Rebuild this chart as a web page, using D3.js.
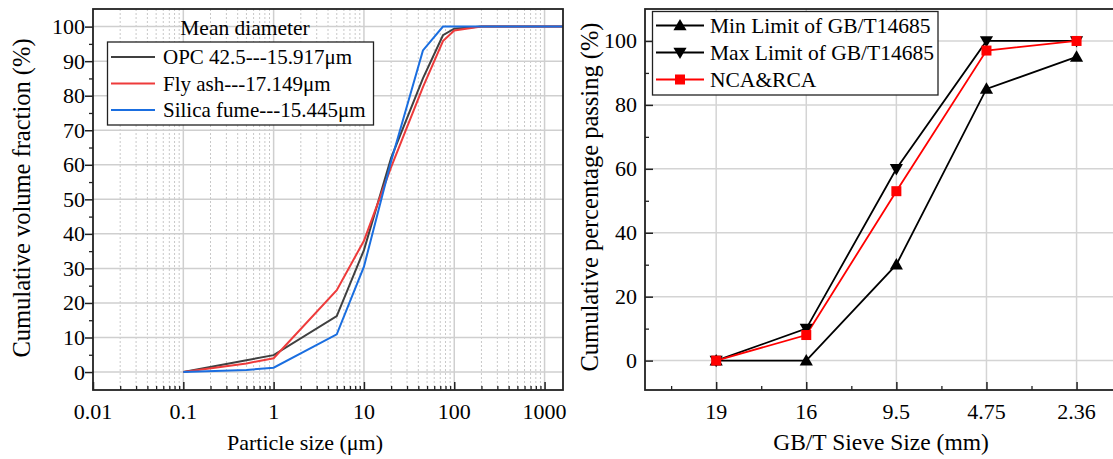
<!DOCTYPE html>
<html><head><meta charset="utf-8">
<script src="https://cdn.jsdelivr.net/npm/d3@7"></script>
<style>
body{margin:0;background:#fff;}
svg{display:block;font-family:"Liberation Serif","Times New Roman",serif;}
</style></head><body>
<svg id="c" width="1113" height="459"></svg>
<script>
// ---- Left chart data: particle size distribution ----
const sizeOPC = [0.1, 0.5, 1, 5, 10, 20, 45, 75, 100, 200, 1600];
const valOPC  = [0, 3.4, 4.9, 16.2, 35.3, 62, 85, 97.5, 99.4, 100, 100];
const sizeFA  = [0.1, 0.5, 1, 5, 10, 20, 45, 75, 100, 200, 1600];
const valFA   = [0, 2.5, 4.0, 23.7, 38, 59.3, 82.5, 95.8, 98.9, 100, 100];
const sizeSF  = [0.1, 0.5, 1, 5, 10, 20, 45, 75, 1600];
const valSF   = [0, 0.6, 1.25, 10.9, 30.5, 61, 93.1, 100, 100];
const psdNames = ["OPC 42.5---15.917\u03bcm", "Fly ash---17.149\u03bcm", "Silica fume---15.445\u03bcm"];
const psdColors = ["#404040", "#ee3b3b", "#1a6ee0"];
const leftXTicks = [0.01, 0.1, 1, 10, 100, 1000];
const leftYTicks = [0, 10, 20, 30, 40, 50, 60, 70, 80, 90, 100];

// ---- Right chart data: gradation ----
const sieves = ["19", "16", "9.5", "4.75", "2.36"];
const minLimit = [0, 0, 30, 85, 95];
const maxLimit = [0, 10, 60, 100, 100];
const ncaRca  = [0, 8, 53, 97, 100];
const gradNames = ["Min Limit of GB/T14685", "Max Limit of GB/T14685", "NCA&RCA"];
const rightYTicks = [0, 20, 40, 60, 80, 100];

const svg = d3.select("#c");
const TICKF = 22, TITLEF = 23, VTITLEF = 24.5, LEGF = 21;

// ================= LEFT CHART =================
const L = {l: 93, r: 563, t: 9, b: 390};
const xL = d3.scaleLog().domain([0.01, 1600]).range([L.l, L.r]);
const yL = d3.scaleLinear().domain([-5.2, 105.1]).range([L.b, L.t]);
const gL = svg.append("g");

const minorX = [];
for (let e = -2; e <= 3; e++) for (let k = 2; k <= 9; k++) { const v = k * Math.pow(10, e); if (v < 1600) minorX.push(v); }
gL.selectAll(".mgx").data(minorX).enter().append("line")
  .attr("x1", d => xL(d)).attr("x2", d => xL(d)).attr("y1", L.t).attr("y2", L.b)
  .attr("stroke", "#c8c8c8").attr("stroke-width", 1).attr("stroke-dasharray", "2,2");
gL.selectAll(".gx").data(leftXTicks.slice(1)).enter().append("line")
  .attr("x1", d => xL(d)).attr("x2", d => xL(d)).attr("y1", L.t).attr("y2", L.b)
  .attr("stroke", "#cfcfcf").attr("stroke-width", 1.5);
gL.selectAll(".gy").data(leftYTicks).enter().append("line")
  .attr("x1", L.l).attr("x2", L.r).attr("y1", d => yL(d)).attr("y2", d => yL(d))
  .attr("stroke", "#cfcfcf").attr("stroke-width", 1.5);

const psdSets = [[sizeOPC, valOPC], [sizeFA, valFA], [sizeSF, valSF]];
const lineL = d3.line().x(d => xL(d[0])).y(d => yL(d[1]));
psdSets.forEach((s, i) => {
  const pts = s[0].map((x, j) => [x, s[1][j]]);
  gL.append("path").datum(pts).attr("d", lineL).attr("fill", "none")
    .attr("stroke", psdColors[i]).attr("stroke-width", 2);
});

gL.append("rect").attr("x", L.l).attr("y", L.t).attr("width", L.r - L.l).attr("height", L.b - L.t)
  .attr("fill", "none").attr("stroke", "#222").attr("stroke-width", 1.8);

const axXL = d3.axisTop(xL).tickValues(leftXTicks).tickSize(8).tickFormat("");
gL.append("g").attr("transform", `translate(0,${L.b})`).call(axXL)
  .call(g => g.select(".domain").remove()).selectAll("line").attr("stroke", "#222").attr("stroke-width", 1.5);
const axXLm = d3.axisTop(xL).tickValues(minorX).tickSize(4).tickFormat("");
gL.append("g").attr("transform", `translate(0,${L.b})`).call(axXLm)
  .call(g => g.select(".domain").remove()).selectAll("line").attr("stroke", "#222").attr("stroke-width", 1.3);
gL.selectAll(".xlab").data(leftXTicks).enter().append("text")
  .attr("x", d => xL(d)).attr("y", 419).attr("text-anchor", "middle").attr("font-size", TICKF).text(d => d);

const axYL = d3.axisLeft(yL).tickValues(leftYTicks).tickSize(8).tickFormat("");
gL.append("g").attr("transform", `translate(${L.l},0)`).call(axYL)
  .call(g => g.select(".domain").remove()).selectAll("line").attr("stroke", "#222").attr("stroke-width", 1.5);
const axYLm = d3.axisLeft(yL).tickValues(d3.range(5, 100, 10)).tickSize(4).tickFormat("");
gL.append("g").attr("transform", `translate(${L.l},0)`).call(axYLm)
  .call(g => g.select(".domain").remove()).selectAll("line").attr("stroke", "#222").attr("stroke-width", 1.3);
gL.selectAll(".ylab").data(leftYTicks).enter().append("text")
  .attr("x", 85).attr("y", d => yL(d) + 7.5).attr("text-anchor", "end").attr("font-size", TICKF).text(d => d);

gL.append("text").attr("x", 305).attr("y", 450).attr("text-anchor", "middle").attr("font-size", 22).text("Particle size (\u03bcm)");
gL.append("text").attr("transform", "translate(30,198) rotate(-90)").attr("text-anchor", "middle").attr("font-size", VTITLEF).text("Cumulative volume fraction (%)");

gL.append("text").attr("x", 245).attr("y", 35).attr("text-anchor", "middle").attr("font-size", 21.5).text("Mean diameter");
gL.append("rect").attr("x", 107.5).attr("y", 42).attr("width", 266).attr("height", 83)
  .attr("fill", "#fff").attr("stroke", "#222").attr("stroke-width", 1.3);
psdNames.forEach((n, i) => {
  const y = 57 + i * 26.5;
  gL.append("line").attr("x1", 111).attr("x2", 155).attr("y1", y).attr("y2", y).attr("stroke", psdColors[i]).attr("stroke-width", 2);
  gL.append("text").attr("x", 163).attr("y", y + 7).attr("font-size", LEGF).text(n);
});

// ================= RIGHT CHART =================
const R = {l: 645, r: 1118, t: 9, b: 390};
const xR = d3.scaleLinear().domain([0.21, 5.46]).range([R.l, R.r]);
const yR = d3.scaleLinear().domain([-9.2, 110]).range([R.b, R.t]);
const gR = svg.append("g");
const cat = (i) => i + 1;

gR.selectAll(".gx").data(sieves).enter().append("line")
  .attr("x1", (d, i) => xR(cat(i))).attr("x2", (d, i) => xR(cat(i))).attr("y1", R.t).attr("y2", R.b)
  .attr("stroke", "#d4d4d4").attr("stroke-width", 1.5);
gR.selectAll(".gy").data(rightYTicks).enter().append("line")
  .attr("x1", R.l).attr("x2", R.r).attr("y1", d => yR(d)).attr("y2", d => yR(d))
  .attr("stroke", "#d4d4d4").attr("stroke-width", 1.5);

const gradSets = [minLimit, maxLimit, ncaRca];
const gradColors = ["#000", "#000", "#ff0000"];
const lineR = d3.line().x(d => xR(d[0])).y(d => yR(d[1]));
gradSets.forEach((s, k) => {
  const pts = s.map((v, i) => [cat(i), v]);
  gR.append("path").datum(pts).attr("d", lineR).attr("fill", "none").attr("stroke", gradColors[k]).attr("stroke-width", 1.8);
});
const triUp = d3.symbol().type(d3.symbolTriangle).size(75);
function marker(g, k, x, y) {
  if (k === 0) g.append("path").attr("d", triUp()).attr("transform", `translate(${x},${y + 1})`).attr("fill", "#000");
  else if (k === 1) g.append("path").attr("d", triUp()).attr("transform", `translate(${x},${y - 1}) rotate(180)`).attr("fill", "#000");
  else g.append("rect").attr("x", x - 5).attr("y", y - 5).attr("width", 10).attr("height", 10).attr("fill", "#ff0000");
}
gradSets.forEach((s, k) => s.forEach((v, i) => marker(gR, k, xR(cat(i)), yR(v))));

gR.append("rect").attr("x", R.l).attr("y", R.t).attr("width", R.r - R.l).attr("height", R.b - R.t)
  .attr("fill", "none").attr("stroke", "#222").attr("stroke-width", 1.8);

const axXR = d3.axisTop(xR).tickValues(sieves.map((d, i) => cat(i))).tickSize(8).tickFormat("");
gR.append("g").attr("transform", `translate(0,${R.b})`).call(axXR)
  .call(g => g.select(".domain").remove()).selectAll("line").attr("stroke", "#222").attr("stroke-width", 1.5);
const axXRm = d3.axisTop(xR).tickValues([0.5, 1.5, 2.5, 3.5, 4.5]).tickSize(4).tickFormat("");
gR.append("g").attr("transform", `translate(0,${R.b})`).call(axXRm)
  .call(g => g.select(".domain").remove()).selectAll("line").attr("stroke", "#222").attr("stroke-width", 1.3);
gR.selectAll(".xlab").data(sieves).enter().append("text")
  .attr("x", (d, i) => xR(cat(i))).attr("y", 419).attr("text-anchor", "middle").attr("font-size", TICKF).text(d => d);

const axYR = d3.axisRight(yR).tickValues(rightYTicks).tickSize(8).tickFormat("");
gR.append("g").attr("transform", `translate(${R.l},0)`).call(axYR)
  .call(g => g.select(".domain").remove()).selectAll("line").attr("stroke", "#222").attr("stroke-width", 1.5);
const axYRm = d3.axisRight(yR).tickValues([10, 30, 50, 70, 90]).tickSize(4).tickFormat("");
gR.append("g").attr("transform", `translate(${R.l},0)`).call(axYRm)
  .call(g => g.select(".domain").remove()).selectAll("line").attr("stroke", "#222").attr("stroke-width", 1.3);
gR.selectAll(".ylab").data(rightYTicks).enter().append("text")
  .attr("x", 637).attr("y", d => yR(d) + 7.5).attr("text-anchor", "end").attr("font-size", TICKF).text(d => d);

gR.append("text").attr("x", 881).attr("y", 450).attr("text-anchor", "middle").attr("font-size", 23.5).text("GB/T Sieve Size (mm)");
gR.append("text").attr("transform", "translate(598,197) rotate(-90)").attr("text-anchor", "middle").attr("font-size", VTITLEF).text("Cumulative percentage passing (%)");

gR.append("rect").attr("x", 652.5).attr("y", 11.5).attr("width", 285.5).attr("height", 83.5)
  .attr("fill", "#fff").attr("stroke", "#222").attr("stroke-width", 1.3);
gradNames.forEach((n, k) => {
  const y = 25.5 + k * 27;
  gR.append("line").attr("x1", 656).attr("x2", 704).attr("y1", y).attr("y2", y).attr("stroke", gradColors[k]).attr("stroke-width", 1.8);
  marker(gR, k, 680, y);
  gR.append("text").attr("x", 710).attr("y", y + 7).attr("font-size", 21.5).text(n);
});
</script>
</body></html>
